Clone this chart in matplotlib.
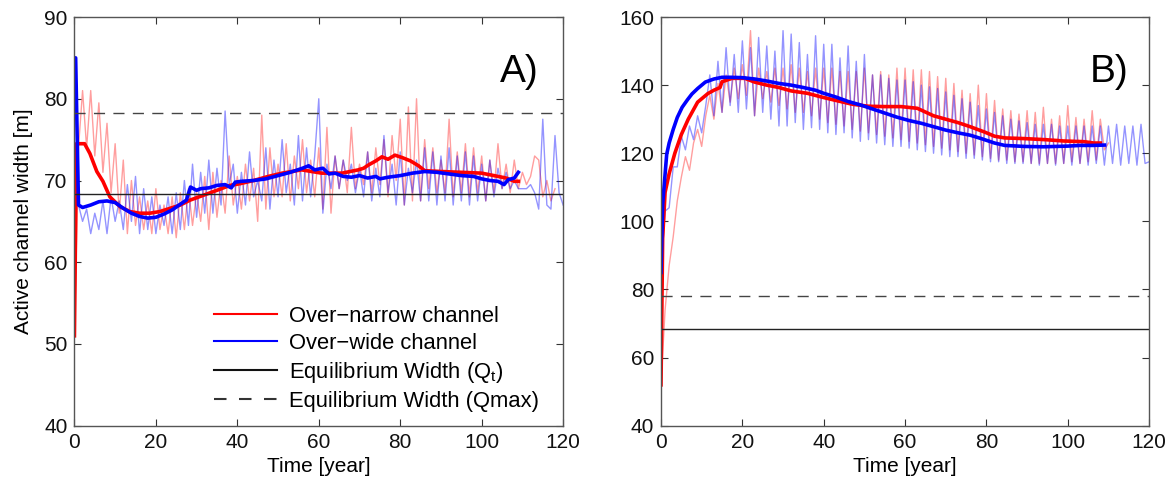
import matplotlib
matplotlib.use("Agg")
import matplotlib.pyplot as plt
import numpy as np

plt.rcParams["font.family"] = ["Liberation Sans", "DejaVu Sans"]

# ---- Panel A : yearly widths (thin lines) ----
a_narrow_raw = [
    51, 74, 81, 74, 81, 73, 79.5, 71, 77, 68.5, 74.5, 66, 72.5, 63.5, 70, 64.5, 68, 64, 67.5, 63.5,
    69, 64, 67, 63.5, 68, 63, 68.5, 64, 69, 64.5, 68.5, 65, 70.5, 64, 71, 65.5, 70, 66, 73, 67,
    70.5, 66.5, 72, 67.5, 71.5, 65, 78, 66.5, 74, 68, 72, 68, 74.5, 67.5, 73, 69, 75, 68.5, 72.5, 68,
    74, 66.5, 76.5, 66, 73, 69, 72.5, 68.5, 76.5, 69, 72, 69.5, 73.5, 68.5, 74, 69.5, 75, 68, 75.5, 70,
    77.5, 67, 79, 67.5, 80, 67.5, 75, 69, 74, 68.5, 72.5, 68.5, 77.5, 68, 73.5, 68.5, 74.5, 68, 74, 68.5,
    73, 67.5, 72.5, 68.5, 74.5, 69, 72, 68.5, 72.5, 69, 71, 69.5, 70.5, 73, 72.5, 68, 70, 67.5, 69,
]
a_wide_raw = [
    85, 67, 65, 66.5, 63.5, 66, 64, 67.5, 63.5, 68, 65, 67.5, 64, 69.5, 65, 70.5, 63.5, 69, 64, 68,
    63.5, 67, 64.5, 68, 63.5, 68.5, 64, 70, 64.5, 72, 65.5, 71, 66, 72.5, 66, 71.5, 67, 78.5, 69.5, 72,
    66, 71, 67, 73.5, 68, 70, 67.5, 74, 66.5, 72.5, 68, 75, 68.5, 72, 67, 75.5, 67.5, 74, 68, 73,
    80, 66, 72, 69, 73, 69, 72.5, 70, 72, 68.5, 71.5, 68, 73.5, 67.5, 71.5, 68, 75.5, 68.5, 72, 67,
    73.5, 67, 71.5, 68.5, 72.5, 67.5, 74, 67.5, 73.5, 67, 73, 67.5, 74, 67, 73, 67.5, 73.5, 67, 73, 67.5,
    72, 67.5, 72.5, 68, 71.5, 69, 71, 69, 70, 69, 69, 69, 69.5, 68.5, 66.5, 77.5, 67, 66.5, 75.5, 68.5,
    67,
]

# ---- Panel A : smoothed widths (thick lines) ----
a_narrow_t = [0, 0.5, 2.5, 3.8, 5.5, 7, 8.7, 11.2, 13.6, 16, 18.5, 21, 23.5, 26, 28.4, 31.7, 35, 38.2,
              40.6, 44, 47.6, 51, 55.8, 60.7, 65.7, 69.7, 71, 72.2, 74, 75.5, 77, 78.7, 80.5, 82.5,
              84.5, 86, 90, 95, 100, 103, 106, 108, 109]
a_narrow_w = [51, 74.5, 74.5, 73.3, 71.1, 69.9, 68, 66.8, 66.2, 66, 66, 66.2, 66.6, 67, 67.6, 68.2, 68.8,
              69.4, 69.6, 70, 70.5, 70.9, 71.3, 70.9, 70.9, 71.3, 71.5, 71.9, 72.4, 72.9, 72.6, 73.1,
              72.8, 72.4, 71.8, 71.2, 71.1, 71.0, 70.9, 70.6, 70.3, 69.9, 69.9]
a_wide_t = [0, 0.3, 1, 2, 4, 6, 8, 10, 12, 14, 16, 18, 20, 22, 24, 26, 27.5, 28.5, 30, 31, 33, 35, 37,
            38.5, 39.5, 41, 44, 47, 50, 53, 56, 57.5, 59, 61, 62.5, 64, 66, 68, 70, 72, 74, 75, 77,
            80, 83, 86, 89, 92, 95, 98, 100, 102, 104, 105.5, 106.5, 108, 109]
a_wide_w = [85, 85, 67, 66.7, 67.0, 67.4, 67.5, 67.3, 66.6, 66.0, 65.6, 65.4, 65.5, 65.9, 66.4, 67.1,
            67.6, 69.2, 68.8, 69.0, 69.1, 69.4, 69.5, 69.1, 69.8, 69.9, 70.0, 70.2, 70.6, 71.0, 71.5,
            71.8, 71.3, 71.5, 70.8, 70.9, 70.5, 70.4, 70.6, 70.3, 70.5, 70.2, 70.4, 70.6, 70.9, 71.1,
            71.0, 70.8, 70.6, 70.5, 70.2, 70.0, 69.9, 69.5, 70.1, 70.3, 71.0]

# ---- Panel B : yearly widths (thin lines) ----
b_narrow_raw = [
    52, 74, 87, 95.5, 106, 113, 119, 115, 123, 127, 122, 131, 137, 130, 140.5, 132, 143, 135, 145, 136,
    146, 137, 156, 131, 145, 136, 144, 135, 145, 134, 145, 133, 146, 132, 145, 132, 144, 131, 145, 130,
    145, 129, 145, 128.5, 144, 128, 144, 127, 144, 126.5, 145, 126, 143, 125.5, 144, 125, 143, 124.5, 145, 124,
    145, 123.5, 144.5, 123, 144.5, 122.5, 144, 122, 142.5, 121.5, 142, 121, 140.5, 120.5, 138.5, 120, 137.5, 119.5, 140, 119,
    137.5, 118.5, 135.5, 118, 133, 118, 132.5, 117.5, 131.5, 117.5, 132.5, 117, 132, 117, 133.5, 117, 130, 117, 131, 117,
    134, 117.5, 130.5, 117, 130, 117.5, 132.5, 118, 130, 121, 123,
]
b_wide_raw = [
    85, 103, 104, 116, 116, 125, 121, 128, 124, 131, 126, 134, 143, 131, 147, 132, 151, 134, 149, 132,
    153, 133, 151, 131, 154, 132, 151.5, 130, 150, 128, 156, 128, 155, 129, 152.5, 127, 149, 127.5, 154.5, 127,
    152, 126, 152, 125.5, 148, 126, 151.5, 124.5, 147, 123.5, 149, 124, 143, 123, 143, 122.5, 142, 122, 141.5, 122,
    141.5, 121.5, 141, 121, 140, 120.5, 139.5, 120, 139, 119.5, 138, 119, 137, 119, 136, 118.5, 135, 118.5, 134, 118,
    133, 117.5, 132, 117.5, 131, 117, 130, 117, 129.5, 117, 129, 117, 128.5, 116.5, 128.5, 117, 128.5, 116.5, 128, 117,
    128, 116.5, 128, 117, 128, 116.5, 128, 117, 128, 116.5, 128, 117, 128.5, 116.5, 128, 117, 128, 116.5, 128.5, 117,
    117.5,
]

# ---- Panel B : smoothed widths (thick lines) ----
b_narrow_t = [0, 0.4, 1, 2, 3.4, 5, 6.7, 9, 11.5, 13, 14.5, 15, 17.5, 20.6, 23, 26, 29, 32, 36, 39.5,
              43, 47, 51, 55, 59, 63, 67, 70, 73, 76, 79.6, 82, 84.5, 89.4, 94.3, 99, 104, 106.4, 108]
b_narrow_w = [52, 95, 108.5, 114, 120, 125.5, 130, 135, 137.5, 138.5, 139.3, 141, 142, 142, 140.9, 140,
              139.3, 138.3, 137.6, 136.5, 135.5, 134.4, 133.8, 133.7, 133.7, 133.2, 131, 130, 129, 127.8,
              126.2, 125, 124.5, 124.3, 124, 123.6, 123.4, 123, 123]
b_wide_t = [0, 0.4, 1.4, 2, 3, 4, 5.2, 6.5, 7.6, 9, 10.9, 13, 15, 17, 20, 23, 26, 29, 32, 35, 38, 40, 43,
            46, 49, 52, 55, 58, 61, 64, 67, 70, 73, 76, 79, 82, 84.5, 89.4, 94, 97, 100, 103, 106, 109]
b_wide_w = [85, 105, 119.7, 123, 127, 130.5, 133.5, 135.7, 137.4, 139, 140.9, 141.8, 142.3, 142.3, 142.2,
            141.8, 141.2, 140.5, 140, 139.3, 138.5, 137.6, 136.5, 135.2, 134.2, 133, 131.8, 130.6, 129.6,
            128.8, 127.8, 126.8, 126, 125.3, 124.2, 123, 122.3, 122, 121.9, 122, 122.1, 122.3, 122.3, 122.4]

width_qt = 68.3
width_qmax = 78.2

RED = "#ff0000"
BLUE = "#0000ff"


def style_axes(ax):
    ax.tick_params(direction="in", top=True, right=True, length=5, labelsize=15,
                   colors="#333333", labelcolor="#111111", pad=5)
    for spine in ax.spines.values():
        spine.set_color("#555555")
        spine.set_linewidth(1.0)


def draw_panel(ax, narrow_raw, wide_raw, narrow_t, narrow_w, wide_t, wide_w):
    ax.plot(np.arange(len(narrow_raw)), narrow_raw, color=RED, lw=1.0, alpha=0.38)
    ax.plot(np.arange(len(wide_raw)), wide_raw, color=BLUE, lw=1.0, alpha=0.42)
    ax.plot(narrow_t, narrow_w, color=RED, lw=2.6)
    ax.plot(wide_t, wide_w, color=BLUE, lw=2.6)
    ax.axhline(width_qt, color="#222222", lw=1.0)
    ax.axhline(width_qmax, color="#444444", lw=1.0, dashes=(8, 6))
    ax.set_xlim(0, 120)
    ax.set_xticks(np.arange(0, 121, 20))
    ax.set_xlabel("Time [year]", fontsize=15, labelpad=4)
    style_axes(ax)


fig = plt.figure(figsize=(11.72, 4.86), dpi=100)
ax_a = fig.add_axes([0.0635, 0.124, 0.4170, 0.841])
ax_b = fig.add_axes([0.5640, 0.124, 0.4165, 0.841])

draw_panel(ax_a, a_narrow_raw, a_wide_raw, a_narrow_t, a_narrow_w, a_wide_t, a_wide_w)
ax_a.set_ylim(40, 90)
ax_a.set_yticks(np.arange(40, 91, 10))
ax_a.set_ylabel("Active channel width [m]", fontsize=15, labelpad=8)
ax_a.text(0.950, 0.865, "A)", transform=ax_a.transAxes, ha="right", va="center", fontsize=28)

draw_panel(ax_b, b_narrow_raw, b_wide_raw, b_narrow_t, b_narrow_w, b_wide_t, b_wide_w)
ax_b.set_ylim(40, 160)
ax_b.set_yticks(np.arange(40, 161, 20))
ax_b.text(0.958, 0.865, "B)", transform=ax_b.transAxes, ha="right", va="center", fontsize=28)

handles = [
    plt.Line2D([], [], color=RED, lw=1.5),
    plt.Line2D([], [], color=BLUE, lw=1.5),
    plt.Line2D([], [], color="#111111", lw=1.5),
    plt.Line2D([], [], color="#333333", lw=1.5, dashes=(6, 6)),
]
labels = [
    "Over\u2212narrow channel",
    "Over\u2212wide channel",
    "Equilibrium Width (Q$_\\mathregular{t}$)",
    "Equilibrium Width (Qmax)",
]
ax_a.legend(handles, labels, loc="lower left", bbox_to_anchor=(0.268, 0.012), frameon=False,
            fontsize=15.8, handlelength=2.85, handletextpad=0.55, labelspacing=0.28, borderaxespad=0.0)

fig.savefig("out.png", dpi=100)
